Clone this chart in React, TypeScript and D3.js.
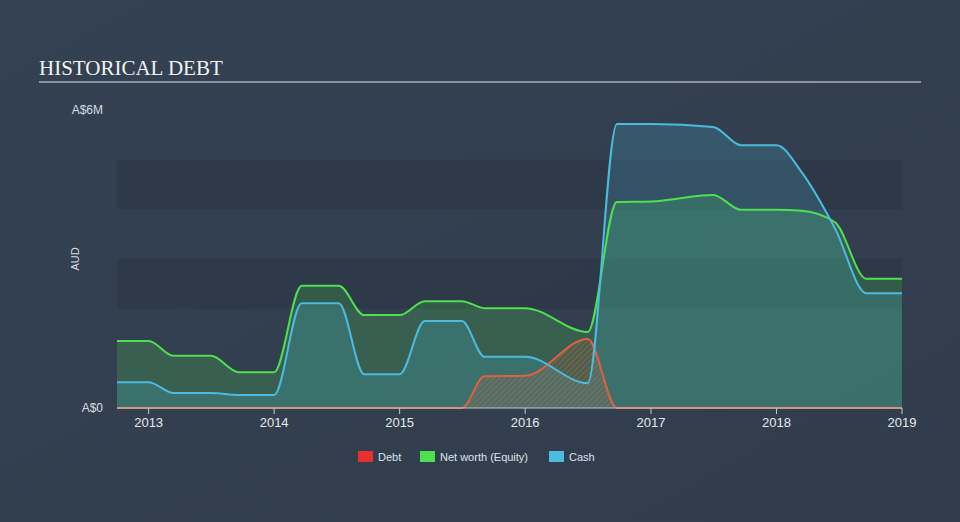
import React from "react";
import * as d3 from "d3";

const dates = [
  "2012-10-01", "2013-01-01", "2013-03-15", "2013-07-01", "2013-09-20",
  "2014-01-01", "2014-03-22", "2014-07-08", "2014-09-20", "2015-01-01",
  "2015-03-15", "2015-07-01", "2015-09-05", "2016-01-01", "2016-07-01",
  "2016-09-24", "2017-01-01", "2017-07-01", "2017-09-20", "2018-01-01",
  "2018-03-15", "2018-06-20", "2018-09-20", "2019-01-01",
];
const netWorth = [
  1.35, 1.35, 1.05, 1.05, 0.72,
  0.72, 2.46, 2.46, 1.87, 1.87,
  2.15, 2.15, 2.01, 2.01, 1.53,
  4.15, 4.16, 4.29, 3.99, 3.99,
  3.97, 3.74, 2.6, 2.6,
];
const cash = [
  0.52, 0.52, 0.3, 0.3, 0.26,
  0.26, 2.11, 2.11, 0.68, 0.68,
  1.75, 1.75, 1.03, 1.03, 0.5,
  5.72, 5.72, 5.66, 5.29, 5.29,
  4.75, 3.62, 2.31, 2.31,
];
const debt = [
  0, 0, 0, 0, 0,
  0, 0, 0, 0, 0,
  0, 0, 0.64, 0.65, 1.39,
  0, 0, 0, 0, 0,
  0, 0, 0, 0,
];
const xTicks = ["2013", "2014", "2015", "2016", "2017", "2018", "2019"];
const legendItems = [
  { label: "Debt", color: "#e8312f" },
  { label: "Net worth (Equity)", color: "#4fe04f" },
  { label: "Cash", color: "#4bbbe0" },
];

export default function App() {
  const W = 960, H = 522;
  const left = 117, right = 902, top = 110, bottom = 408;
  const parse = d3.timeParse("%Y-%m-%d");
  const x = d3.scaleTime()
    .domain([parse("2012-10-01")!, parse("2019-01-01")!])
    .range([left, right]);
  const y = d3.scaleLinear().domain([0, 6]).range([bottom, top]);
  const pts = dates.map((d, i) => ({ d: parse(d)!, nw: netWorth[i], c: cash[i], db: debt[i] }));
  type P = typeof pts[0];
  const mkArea = (f: (p: P) => number) =>
    d3.area<P>().x(p => x(p.d)).y0(bottom).y1(p => y(f(p))).curve(d3.curveMonotoneX)(pts) || "";
  const mkLine = (f: (p: P) => number) =>
    d3.line<P>().x(p => x(p.d)).y(p => y(f(p))).curve(d3.curveMonotoneX)(pts) || "";

  const green = "#4fe04f";
  const blue = "#4bbbe0";
  const debtC = "#e0603f";
  const bands = [[2, 3], [4, 5]];

  return (
    <svg width={W} height={H} style={{ position: "absolute", left: 0, top: 0, display: "block" }}
      fontFamily="'Liberation Sans', Arial, sans-serif">
      <defs>
        <linearGradient id="bg" x1="0" y1="0" x2="1" y2="1">
          <stop offset="0" stopColor="#344152" />
          <stop offset="1" stopColor="#313d4d" />
        </linearGradient>
        <pattern id="hatch" patternUnits="userSpaceOnUse" width="4" height="4" patternTransform="rotate(45)">
          <rect width="4" height="4" fill="rgba(224,96,63,0.12)" />
          <line x1="0" y1="0" x2="0" y2="4" stroke="rgba(224,110,80,0.55)" strokeWidth="1.3" />
        </pattern>
      </defs>
      <rect width={W} height={H} fill="url(#bg)" />
      <text x={39} y={75} fontFamily="'Liberation Serif', 'DejaVu Serif', serif" fontSize={21} fill="#f2f2f2">
        HISTORICAL DEBT
      </text>
      <line x1={39} x2={921} y1={82} y2={82} stroke="#a9b0ba" strokeWidth={1.5} />
      {bands.map(([a, b], i) => (
        <rect key={i} x={left} width={right - left} y={y(b)} height={y(a) - y(b)} fill="#2c3746" opacity={0.7} />
      ))}
      <text x={103} y={114} textAnchor="end" fontSize={12} fill="#d8dde3">A$6M</text>
      <text x={103} y={412} textAnchor="end" fontSize={12} fill="#d8dde3">A$0</text>
      <text transform={`translate(79,259) rotate(-90)`} textAnchor="middle" fontSize={11} fill="#d8dde3">AUD</text>

      <path d={mkArea(p => p.nw)} fill={green} fillOpacity={0.2} />
      <path d={mkArea(p => p.c)} fill={blue} fillOpacity={0.2} />
      <path d={mkArea(p => p.db)} fill="url(#hatch)" />
      <path d={mkLine(p => p.db)} fill="none" stroke={debtC} strokeWidth={2} />
      <path d={mkLine(p => p.nw)} fill="none" stroke={green} strokeWidth={2} />
      <path d={mkLine(p => p.c)} fill="none" stroke={blue} strokeWidth={2} />

      <line x1={left} x2={right} y1={bottom} y2={bottom} stroke="#c3c9d1" strokeWidth={1} />
      {xTicks.map(t => {
        const xx = x(parse(`${t}-01-01`)!);
        return (
          <g key={t}>
            <line x1={xx} x2={xx} y1={bottom} y2={bottom + 6} stroke="#c3c9d1" />
            <text x={xx} y={427} textAnchor="middle" fontSize={13} fill="#e6e9ec">{t}</text>
          </g>
        );
      })}
      {(() => {
        const xs = [358, 420, 549];
        return legendItems.map((it, i) => (
          <g key={it.label}>
            <rect x={xs[i]} y={451} width={15} height={11} fill={it.color} />
            <text x={xs[i] + 20} y={460.5} fontSize={11} fill="#dfe3e8">{it.label}</text>
          </g>
        ));
      })()}
    </svg>
  );
}
